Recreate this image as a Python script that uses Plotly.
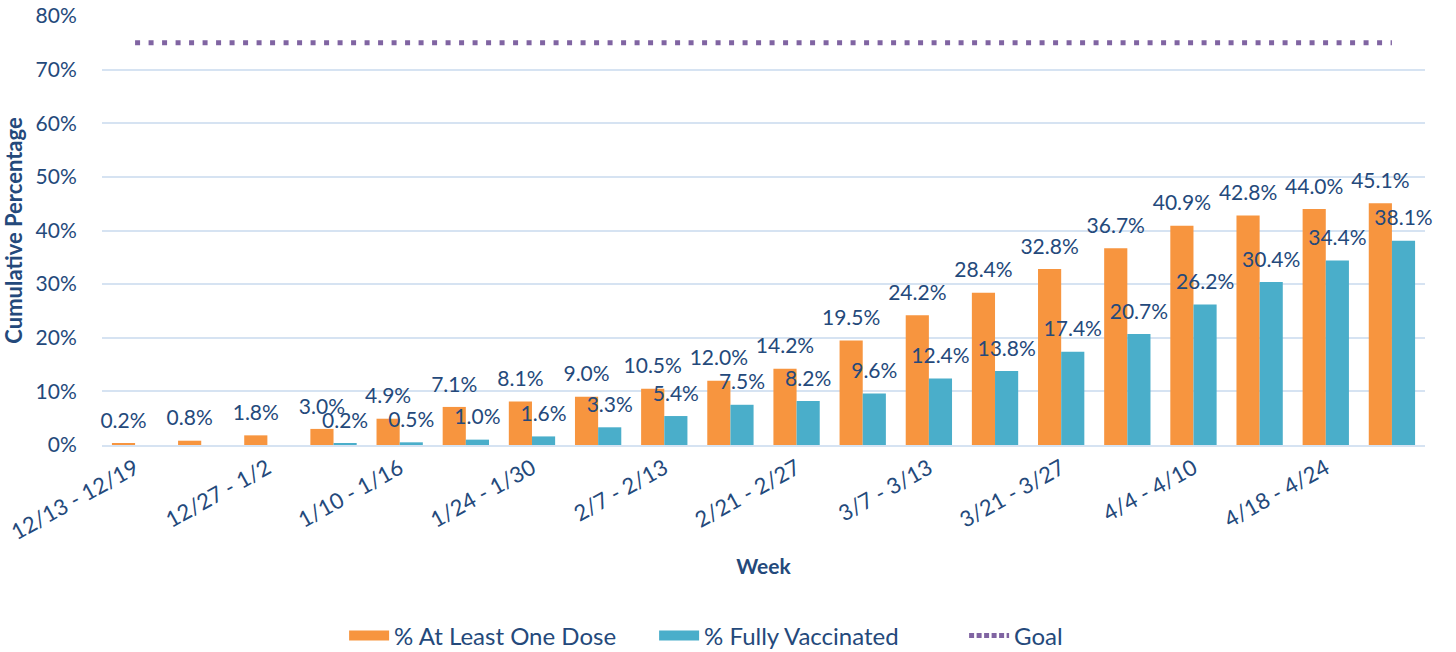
import plotly.graph_objects as go

weeks = ["12/13 - 12/19", "12/20 - 12/26", "12/27 - 1/2", "1/3 - 1/9", "1/10 - 1/16",
         "1/17 - 1/23", "1/24 - 1/30", "1/31 - 2/6", "2/7 - 2/13", "2/14 - 2/20",
         "2/21 - 2/27", "2/28 - 3/6", "3/7 - 3/13", "3/14 - 3/20", "3/21 - 3/27",
         "3/28 - 4/3", "4/4 - 4/10", "4/11 - 4/17", "4/18 - 4/24", "4/25 - 5/1"]
at_least_one = [0.2, 0.8, 1.8, 3.0, 4.9, 7.1, 8.1, 9.0, 10.5, 12.0,
                14.2, 19.5, 24.2, 28.4, 32.8, 36.7, 40.9, 42.8, 44.0, 45.1]
fully = [None, None, None, 0.2, 0.5, 1.0, 1.6, 3.3, 5.4, 7.5,
         8.2, 9.6, 12.4, 13.8, 17.4, 20.7, 26.2, 30.4, 34.4, 38.1]
goal = [75] * len(weeks)
tick_labels = weeks[::2]

TXT = "#24497B"
GRID = "#D6E3F2"
FONT = "Lato"
ORANGE = "#F7953F"
TEAL = "#4AAECA"
label_tmpl = "<span style='font-size:21px'>%{y:.1f}%</span><br> "

fig = go.Figure()
fig.add_trace(go.Bar(
    x=weeks, y=at_least_one, name="% At Least One Dose", showlegend=False,
    marker=dict(color=ORANGE, line=dict(width=0)),
    texttemplate=label_tmpl, textposition="outside", constraintext="none",
    cliponaxis=False, textfont=dict(color=TXT, size=8, family=FONT),
))
fig.add_trace(go.Bar(
    x=weeks, y=fully, name="% Fully Vaccinated", showlegend=False,
    marker=dict(color=TEAL, line=dict(width=0)),
    texttemplate=label_tmpl, textposition="outside", constraintext="none",
    cliponaxis=False, textfont=dict(color=TXT, size=8, family=FONT),
))
fig.add_trace(go.Scatter(
    x=weeks, y=goal, name="Goal", mode="lines", showlegend=False,
    line=dict(color="#8064A2", width=5, dash="5px,8.5px"),
))
# legend-only entries (wide swatches like the original)
fig.add_trace(go.Scatter(x=[None], y=[None], name="% At Least One Dose", mode="lines",
                         line=dict(color=ORANGE, width=13)))
fig.add_trace(go.Scatter(x=[None], y=[None], name="% Fully Vaccinated", mode="lines",
                         line=dict(color=TEAL, width=13)))
fig.add_trace(go.Scatter(x=[None], y=[None], name="Goal", mode="lines",
                         line=dict(color="#8064A2", width=5, dash="5px,2.5px")))

fig.update_layout(
    width=1456, height=652,
    paper_bgcolor="white", plot_bgcolor="white",
    margin=dict(l=102, r=31, t=16, b=207, autoexpand=False),
    barmode="group", bargap=0.3, bargroupgap=0,
    font=dict(family=FONT, color=TXT, size=20),
    showlegend=True,
    legend=dict(orientation="h", x=0.183, xanchor="left", y=-0.445, yanchor="middle",
                font=dict(size=24, color=TXT, family=FONT), itemwidth=40,
                entrywidth=255, entrywidthmode="pixels",
                traceorder="normal"),
)
fig.update_xaxes(
    tickvals=tick_labels, ticktext=tick_labels, tickangle=-29,
    tickfont=dict(size=22, color=TXT, family=FONT),
    showgrid=False, showline=True, linecolor=GRID, linewidth=2,
    automargin=False,
    title=dict(text="<b>Week</b>", font=dict(size=21, color=TXT, family=FONT), standoff=15),
)
fig.update_yaxes(
    range=[0, 80], dtick=10, ticksuffix="%",
    tickfont=dict(size=21, color=TXT, family=FONT),
    showgrid=True, gridcolor=GRID, gridwidth=2, zeroline=False,
    ticks="outside", ticklen=20, tickcolor="rgba(0,0,0,0)",
    automargin=False,
    title=dict(text="<b>Cumulative Percentage</b>", font=dict(size=22, color=TXT, family=FONT), standoff=6),
)

fig.write_html("out.html", config={"displayModeBar": False},
               post_script="document.body.style.margin='0';")
